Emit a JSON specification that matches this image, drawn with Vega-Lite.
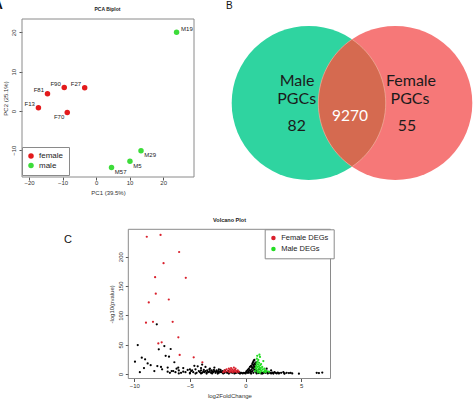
{
  "$schema": "https://vega.github.io/schema/vega-lite/v6.json",
  "width": 474,
  "height": 401,
  "padding": 0,
  "autosize": {"type": "none"},
  "background": "white",
  "config": {"view": {"stroke": null}, "font": "Liberation Sans"},
  "datasets": {
    "pca": [
      {"id": "F13", "sex": "female", "x": -17.2, "y": 0.8, "pos": "ul"},
      {"id": "F81", "sex": "female", "x": -14.5, "y": 4.4, "pos": "ul"},
      {"id": "F90", "sex": "female", "x": -9.5, "y": 6.0, "pos": "ul"},
      {"id": "F27", "sex": "female", "x": -3.4, "y": 5.9, "pos": "ul"},
      {"id": "F70", "sex": "female", "x": -8.6, "y": -0.4, "pos": "dl"},
      {"id": "M19", "sex": "male", "x": 24.0, "y": 20.0, "pos": "ur"},
      {"id": "M29", "sex": "male", "x": 13.4, "y": -10.1, "pos": "dr"},
      {"id": "M5", "sex": "male", "x": 10.1, "y": -12.8, "pos": "dr"},
      {"id": "M57", "sex": "male", "x": 4.6, "y": -14.4, "pos": "dr"}
    ],
    "pcaFrame": [{"x": -22.1, "x2": 29.2, "y": -16.8, "y2": 23.4}],
    "pcaTitle": [{"t": "PCA Biplot", "x": 3.4, "y": 26.0}],
    "letterA": [{"t": "A", "x": -27.8, "y": 26.97}],
    "venn": [
      {"set": "male", "x": -0.5625, "y": 0},
      {"set": "female", "x": 0.5625, "y": 0}
    ],
    "lens": [{"x": 0, "y": 0}],
    "vennText": [
      {"t": "Male", "x": -0.714, "y": 0.29, "k": "word"},
      {"t": "PGCs", "x": -0.718, "y": 0.05, "k": "word"},
      {"t": "82", "x": -0.718, "y": -0.295, "k": "num"},
      {"t": "9270", "x": -0.026, "y": -0.169, "k": "mid"},
      {"t": "Female", "x": 0.766, "y": 0.29, "k": "word"},
      {"t": "PGCs", "x": 0.753, "y": 0.05, "k": "word"},
      {"t": "55", "x": 0.714, "y": -0.295, "k": "num"}
    ],
    "letterB": [{"t": "B", "x": -1.594, "y": 1.256}],
    "volFrame": [{"x": -10.54, "x2": 7.64, "y": -7.7, "y2": 246.7}],
    "volTitle": [{"t": "Volcano Plot", "x": -1.44, "y": 262.6}],
    "letterC": [{"t": "C", "x": -15.96, "y": 228.5}],
    "volc": [
      {"x": -7.98, "y": 84.7, "g": "N"}, {"x": -9.69, "y": 49.4, "g": "N"}, {"x": -7.8, "y": 42, "g": "N"}, {"x": -7.3, "y": 47.7, "g": "N"},
      {"x": -6.73, "y": 42.6, "g": "N"}, {"x": -7.18, "y": 31, "g": "N"}, {"x": -6.88, "y": 29.5, "g": "N"}, {"x": -9.94, "y": 21, "g": "N"},
      {"x": -9.33, "y": 27.8, "g": "N"}, {"x": -9.03, "y": 25, "g": "N"}, {"x": -8.8, "y": 18, "g": "N"}, {"x": -9.13, "y": 10, "g": "N"},
      {"x": -8.53, "y": 15, "g": "N"}, {"x": -7.93, "y": 13.5, "g": "N"}, {"x": -7.6, "y": 12, "g": "N"}, {"x": -7.5, "y": 8, "g": "N"},
      {"x": -7.0, "y": 11, "g": "N"}, {"x": -6.4, "y": 20, "g": "N"}, {"x": -6.2, "y": 9, "g": "N"}, {"x": -6.64, "y": 5, "g": "N"},
      {"x": -4.6, "y": 14, "g": "N"}, {"x": -4.3, "y": 13, "g": "N"}, {"x": -8.2, "y": 5, "g": "N"}, {"x": -9.5, "y": 3, "g": "N"},
      {"x": -5.0, "y": 8, "g": "N"}, {"x": -4.0, "y": 10, "g": "N"}, {"x": -3.6, "y": 12, "g": "N"}, {"x": -3.2, "y": 9, "g": "N"},
      {"x": -2.8, "y": 11, "g": "N"}, {"x": -2.4, "y": 8, "g": "N"}, {"x": -3.9, "y": 16, "g": "N"}, {"x": -4.8, "y": 6, "g": "N"},
      {"x": -5.6, "y": 10, "g": "N"}, {"x": -6.05, "y": 11, "g": "N"},
      {"x": -7.0, "y": 4, "g": "N"}, {"x": -6.8, "y": 2, "g": "N"}, {"x": -6.5, "y": 5, "g": "N"}, {"x": -6.3, "y": 3, "g": "N"},
      {"x": -6.0, "y": 6, "g": "N"}, {"x": -5.8, "y": 2, "g": "N"}, {"x": -5.6, "y": 4, "g": "N"}, {"x": -5.4, "y": 3, "g": "N"},
      {"x": -5.2, "y": 7, "g": "N"}, {"x": -5.0, "y": 2, "g": "N"}, {"x": -4.9, "y": 5, "g": "N"}, {"x": -4.7, "y": 3, "g": "N"},
      {"x": -4.5, "y": 8, "g": "N"}, {"x": -4.4, "y": 2, "g": "N"}, {"x": -4.2, "y": 5, "g": "N"}, {"x": -4.1, "y": 3, "g": "N"},
      {"x": -4.0, "y": 6, "g": "N"}, {"x": -3.9, "y": 2, "g": "N"}, {"x": -3.8, "y": 4, "g": "N"}, {"x": -3.75, "y": 7, "g": "N"},
      {"x": -3.7, "y": 3, "g": "N"}, {"x": -3.6, "y": 5, "g": "N"}, {"x": -3.5, "y": 2, "g": "N"}, {"x": -3.45, "y": 6, "g": "N"},
      {"x": -3.4, "y": 4, "g": "N"}, {"x": -3.3, "y": 3, "g": "N"}, {"x": -3.25, "y": 8, "g": "N"}, {"x": -3.2, "y": 5, "g": "N"},
      {"x": -3.1, "y": 2, "g": "N"}, {"x": -3.05, "y": 6, "g": "N"}, {"x": -3.0, "y": 4, "g": "N"}, {"x": -2.9, "y": 3, "g": "N"},
      {"x": -2.85, "y": 7, "g": "N"}, {"x": -2.8, "y": 5, "g": "N"}, {"x": -2.7, "y": 2, "g": "N"}, {"x": -2.65, "y": 4, "g": "N"},
      {"x": -2.6, "y": 6, "g": "N"}, {"x": -2.5, "y": 3, "g": "N"}, {"x": -2.45, "y": 5, "g": "N"}, {"x": -2.4, "y": 2, "g": "N"},
      {"x": -2.3, "y": 4, "g": "N"}, {"x": -2.25, "y": 7, "g": "N"}, {"x": -2.2, "y": 3, "g": "N"}, {"x": -2.1, "y": 5, "g": "N"},
      {"x": -2.05, "y": 2, "g": "N"}, {"x": -2.0, "y": 4, "g": "N"}, {"x": -1.9, "y": 2, "g": "N"}, {"x": -1.85, "y": 6, "g": "N"},
      {"x": -1.75, "y": 3, "g": "N"}, {"x": -1.65, "y": 2, "g": "N"}, {"x": -1.55, "y": 5, "g": "N"}, {"x": -1.45, "y": 2, "g": "N"},
      {"x": -1.35, "y": 3, "g": "N"}, {"x": -1.2, "y": 2, "g": "N"}, {"x": -1.05, "y": 3, "g": "N"}, {"x": -0.95, "y": 1.5, "g": "N"},
      {"x": -0.85, "y": 2, "g": "N"}, {"x": -0.75, "y": 4, "g": "N"}, {"x": -0.65, "y": 2, "g": "N"}, {"x": -0.55, "y": 3, "g": "N"},
      {"x": -0.45, "y": 1.5, "g": "N"}, {"x": -0.35, "y": 2, "g": "N"}, {"x": -0.25, "y": 1, "g": "N"}, {"x": -0.15, "y": 2, "g": "N"},
      {"x": -0.05, "y": 1.5, "g": "N"}, {"x": 0.05, "y": 3, "g": "N"}, {"x": 0.1, "y": 5, "g": "N"}, {"x": 0.15, "y": 2, "g": "N"},
      {"x": 0.2, "y": 7, "g": "N"}, {"x": 0.25, "y": 4, "g": "N"}, {"x": 0.3, "y": 9, "g": "N"}, {"x": 0.35, "y": 6, "g": "N"},
      {"x": 0.4, "y": 12, "g": "N"}, {"x": 0.45, "y": 3, "g": "N"}, {"x": 0.5, "y": 14, "g": "N"}, {"x": 0.55, "y": 8, "g": "N"},
      {"x": 0.6, "y": 17, "g": "N"}, {"x": 0.62, "y": 5, "g": "N"}, {"x": 0.65, "y": 19, "g": "N"}, {"x": 0.68, "y": 10, "g": "N"},
      {"x": 0.7, "y": 21, "g": "N"}, {"x": 0.72, "y": 14, "g": "N"}, {"x": 0.75, "y": 23, "g": "N"}, {"x": 0.78, "y": 7, "g": "N"},
      {"x": 0.8, "y": 24, "g": "N"}, {"x": 0.82, "y": 12, "g": "N"}, {"x": 0.85, "y": 18, "g": "N"}, {"x": 0.88, "y": 4, "g": "N"},
      {"x": 0.9, "y": 15, "g": "N"}, {"x": 0.92, "y": 9, "g": "N"}, {"x": 0.95, "y": 20, "g": "N"}, {"x": 0.98, "y": 6, "g": "N"},
      {"x": 0.7, "y": 2, "g": "N"}, {"x": 0.5, "y": 4, "g": "N"}, {"x": 0.3, "y": 2, "g": "N"}, {"x": 0.6, "y": 11, "g": "N"},
      {"x": 0.75, "y": 16, "g": "N"}, {"x": 0.85, "y": 11, "g": "N"}, {"x": 0.4, "y": 6, "g": "N"}, {"x": 0.55, "y": 13, "g": "N"},
      {"x": 1.0, "y": 2, "g": "N"}, {"x": 1.1, "y": 3, "g": "N"}, {"x": 1.2, "y": 1.5, "g": "N"}, {"x": 1.3, "y": 2.5, "g": "N"},
      {"x": 1.4, "y": 1, "g": "N"}, {"x": 1.5, "y": 2, "g": "N"}, {"x": 1.6, "y": 1.5, "g": "N"}, {"x": 1.7, "y": 3, "g": "N"},
      {"x": 1.8, "y": 2, "g": "N"}, {"x": 1.9, "y": 4, "g": "N"}, {"x": 2.0, "y": 1.5, "g": "N"}, {"x": 2.1, "y": 3, "g": "N"},
      {"x": 2.2, "y": 2, "g": "N"}, {"x": 2.3, "y": 1, "g": "N"}, {"x": 2.4, "y": 2.5, "g": "N"}, {"x": 2.5, "y": 1.5, "g": "N"},
      {"x": 2.6, "y": 3, "g": "N"}, {"x": 2.7, "y": 2, "g": "N"}, {"x": 2.8, "y": 1, "g": "N"}, {"x": 2.9, "y": 2.5, "g": "N"},
      {"x": 3.0, "y": 1.5, "g": "N"}, {"x": 3.2, "y": 2, "g": "N"}, {"x": 3.4, "y": 3, "g": "N"}, {"x": 3.5, "y": 1, "g": "N"},
      {"x": 3.7, "y": 2, "g": "N"}, {"x": 3.9, "y": 1.5, "g": "N"}, {"x": 4.05, "y": 2, "g": "N"}, {"x": 4.2, "y": 1, "g": "N"},
      {"x": 4.8, "y": 0.5, "g": "N"}, {"x": 6.4, "y": 2, "g": "N"}, {"x": 6.6, "y": 1.5, "g": "N"}, {"x": 6.9, "y": 2.5, "g": "N"},
      {"x": 1.2, "y": 8, "g": "N"}, {"x": 1.9, "y": 9, "g": "N"}, {"x": 2.3, "y": 6, "g": "N"},
      {"x": -6, "y": 1, "g": "N"}, {"x": -5, "y": 1, "g": "N"}, {"x": -4.5, "y": 0.8, "g": "N"}, {"x": -4, "y": 1, "g": "N"},
      {"x": -3.5, "y": 0.7, "g": "N"}, {"x": -3, "y": 1, "g": "N"}, {"x": -2.5, "y": 0.8, "g": "N"}, {"x": -2, "y": 1, "g": "N"},
      {"x": -1.5, "y": 0.7, "g": "N"}, {"x": -1, "y": 1, "g": "N"}, {"x": -0.5, "y": 0.8, "g": "N"}, {"x": 0, "y": 1, "g": "N"},
      {"x": 0.5, "y": 0.8, "g": "N"}, {"x": 1, "y": 1, "g": "N"}, {"x": 1.5, "y": 0.7, "g": "N"}, {"x": 2, "y": 1, "g": "N"},
      {"x": 2.5, "y": 0.8, "g": "N"}, {"x": 3, "y": 1, "g": "N"}, {"x": 3.5, "y": 0.7, "g": "N"},
      {"x": -8.88, "y": 234, "g": "F"}, {"x": -7.64, "y": 237, "g": "F"}, {"x": -5.97, "y": 208, "g": "F"}, {"x": -7.37, "y": 189, "g": "F"},
      {"x": -8.13, "y": 165, "g": "F"}, {"x": -5.37, "y": 164, "g": "F"}, {"x": -8.07, "y": 137, "g": "F"}, {"x": -6.9, "y": 127, "g": "F"},
      {"x": -8.7, "y": 122, "g": "F"}, {"x": -8.32, "y": 89, "g": "F"}, {"x": -8.95, "y": 87.5, "g": "F"}, {"x": -6.55, "y": 89, "g": "F"},
      {"x": -6.04, "y": 62.6, "g": "F"}, {"x": -7.84, "y": 52, "g": "F"}, {"x": -7.54, "y": 54, "g": "F"}, {"x": -5.92, "y": 32.4, "g": "F"},
      {"x": -4.66, "y": 28.5, "g": "F"}, {"x": -3.88, "y": 20, "g": "F"},
      {"x": -2.0, "y": 3, "g": "F"}, {"x": -1.9, "y": 6, "g": "F"}, {"x": -1.8, "y": 4, "g": "F"}, {"x": -1.7, "y": 8, "g": "F"},
      {"x": -1.6, "y": 5, "g": "F"}, {"x": -1.5, "y": 9, "g": "F"}, {"x": -1.45, "y": 3, "g": "F"}, {"x": -1.4, "y": 7, "g": "F"},
      {"x": -1.3, "y": 10, "g": "F"}, {"x": -1.25, "y": 5, "g": "F"}, {"x": -1.2, "y": 8, "g": "F"}, {"x": -1.1, "y": 6, "g": "F"},
      {"x": -1.05, "y": 11, "g": "F"}, {"x": -1.0, "y": 4, "g": "F"}, {"x": -0.95, "y": 7, "g": "F"}, {"x": -0.9, "y": 9, "g": "F"},
      {"x": -0.85, "y": 5, "g": "F"}, {"x": -0.8, "y": 3, "g": "F"}, {"x": -0.7, "y": 6, "g": "F"}, {"x": -0.6, "y": 4, "g": "F"},
      {"x": -1.35, "y": 4, "g": "F"}, {"x": -1.15, "y": 3, "g": "F"},
      {"x": 0.85, "y": 5, "g": "M"}, {"x": 0.9, "y": 10, "g": "M"}, {"x": 0.95, "y": 14, "g": "M"}, {"x": 1.0, "y": 8, "g": "M"},
      {"x": 1.0, "y": 18, "g": "M"}, {"x": 1.02, "y": 26, "g": "M"}, {"x": 1.05, "y": 12, "g": "M"}, {"x": 1.08, "y": 21, "g": "M"},
      {"x": 1.1, "y": 6, "g": "M"}, {"x": 1.12, "y": 16, "g": "M"}, {"x": 1.15, "y": 24, "g": "M"}, {"x": 1.18, "y": 9, "g": "M"},
      {"x": 1.2, "y": 13, "g": "M"}, {"x": 1.22, "y": 19, "g": "M"}, {"x": 1.25, "y": 4, "g": "M"}, {"x": 1.28, "y": 11, "g": "M"},
      {"x": 1.3, "y": 29, "g": "M"}, {"x": 1.32, "y": 15, "g": "M"}, {"x": 1.35, "y": 7, "g": "M"}, {"x": 1.38, "y": 10, "g": "M"},
      {"x": 1.4, "y": 17, "g": "M"}, {"x": 1.45, "y": 5, "g": "M"}, {"x": 1.5, "y": 12, "g": "M"}, {"x": 1.55, "y": 8, "g": "M"},
      {"x": 1.6, "y": 22, "g": "M"}, {"x": 1.65, "y": 4, "g": "M"}, {"x": 1.7, "y": 9, "g": "M"}, {"x": 1.75, "y": 6, "g": "M"},
      {"x": 1.8, "y": 3, "g": "M"}, {"x": 1.9, "y": 5, "g": "M"}, {"x": 2.1, "y": 4, "g": "M"}, {"x": 1.05, "y": 31, "g": "M"},
      {"x": 1.25, "y": 33, "g": "M"}, {"x": 1.1, "y": 3, "g": "M"}, {"x": 1.3, "y": 2, "g": "M"}
    ]
  },
  "layer": [
    {
      "layer": [
        {
          "data": {"name": "pcaFrame"},
          "mark": {"type": "rect", "fill": "transparent", "stroke": "#8a8a8a", "strokeWidth": 1},
          "encoding": {
            "x": {"field": "x", "type": "quantitative"},
            "x2": {"field": "x2"},
            "y": {"field": "y", "type": "quantitative"},
            "y2": {"field": "y2"}
          }
        },
        {
          "data": {"name": "pca"},
          "mark": {"type": "point", "filled": true, "shape": "circle", "size": 30, "opacity": 1, "strokeWidth": 0},
          "encoding": {
            "x": {
              "field": "x", "type": "quantitative",
              "scale": {"domain": [-22.1, 29.2], "range": [22, 194], "zero": false, "nice": false},
              "axis": {
                "orient": "bottom", "offset": -224, "values": [-20, -10, 0, 10, 20], "title": "PC1 (39.5%)",
                "grid": false, "domain": false, "tickSize": 3, "tickColor": "#555",
                "labelFontSize": 6, "labelColor": "#333", "labelPadding": 2.7, "labelBaseline": "middle",
                "labelFlush": false, "labelOverlap": false,
                "titleFontSize": 6, "titleFontWeight": "normal", "titleColor": "#333", "titleY": 15.3, "titleBaseline": "middle"
              }
            },
            "y": {
              "field": "y", "type": "quantitative",
              "scale": {"domain": [-16.8, 23.4], "range": [177, 19], "zero": false, "nice": false},
              "axis": {
                "orient": "left", "offset": -22, "values": [-10, 0, 10, 20], "title": "PC2 (25.1%)",
                "grid": false, "domain": false, "tickSize": 3, "tickColor": "#555",
                "labelFontSize": 6, "labelColor": "#333", "labelPadding": 5.7, "labelAngle": 270,
                "labelAlign": "center", "labelBaseline": "middle", "labelFlush": false, "labelOverlap": false,
                "titleFontSize": 6, "titleFontWeight": "normal", "titleColor": "#333", "titleX": -17, "titleBaseline": "middle"
              }
            },
            "color": {
              "field": "sex", "type": "nominal",
              "scale": {"domain": ["female", "male"], "range": ["#e31a1c", "#3ddc3a"]},
              "legend": {
                "orient": "none", "legendX": 22, "legendY": 147, "title": null, "direction": "vertical",
                "strokeColor": "#8a8a8a", "fillColor": "white", "padding": 5,
                "labelFontSize": 8, "labelColor": "#222", "symbolSize": 30, "symbolType": "circle",
                "symbolStrokeWidth": 0, "rowPadding": 1.5, "labelOffset": 4
              }
            }
          }
        },
        {
          "data": {"name": "pca"},
          "transform": [{"filter": "datum.pos == 'ul'"}],
          "mark": {"type": "text", "align": "right", "baseline": "middle", "dx": -3.5, "dy": -3.7, "fontSize": 6, "color": "#222"},
          "encoding": {
            "x": {"field": "x", "type": "quantitative"},
            "y": {"field": "y", "type": "quantitative"},
            "text": {"field": "id"}
          }
        },
        {
          "data": {"name": "pca"},
          "transform": [{"filter": "datum.pos == 'dl'"}],
          "mark": {"type": "text", "align": "right", "baseline": "middle", "dx": -3, "dy": 4, "fontSize": 6, "color": "#222"},
          "encoding": {
            "x": {"field": "x", "type": "quantitative"},
            "y": {"field": "y", "type": "quantitative"},
            "text": {"field": "id"}
          }
        },
        {
          "data": {"name": "pca"},
          "transform": [{"filter": "datum.pos == 'ur'"}],
          "mark": {"type": "text", "align": "left", "baseline": "middle", "dx": 4.5, "dy": -3.3, "fontSize": 6, "color": "#222"},
          "encoding": {
            "x": {"field": "x", "type": "quantitative"},
            "y": {"field": "y", "type": "quantitative"},
            "text": {"field": "id"}
          }
        },
        {
          "data": {"name": "pca"},
          "transform": [{"filter": "datum.pos == 'dr'"}],
          "mark": {"type": "text", "align": "left", "baseline": "middle", "dx": 3.3, "dy": 4.5, "fontSize": 6, "color": "#222"},
          "encoding": {
            "x": {"field": "x", "type": "quantitative"},
            "y": {"field": "y", "type": "quantitative"},
            "text": {"field": "id"}
          }
        },
        {
          "data": {"name": "pcaTitle"},
          "mark": {"type": "text", "align": "center", "baseline": "middle", "fontSize": 5, "fontWeight": "bold", "color": "#222"},
          "encoding": {
            "x": {"field": "x", "type": "quantitative"},
            "y": {"field": "y", "type": "quantitative"},
            "text": {"field": "t"}
          }
        },
        {
          "data": {"name": "letterA"},
          "mark": {"type": "text", "align": "right", "baseline": "middle", "fontSize": 14, "fontWeight": "bold", "color": "#111"},
          "encoding": {
            "x": {"field": "x", "type": "quantitative"},
            "y": {"field": "y", "type": "quantitative"},
            "text": {"field": "t"}
          }
        }
      ]
    },
    {
      "layer": [
        {
          "data": {"name": "venn"},
          "mark": {"type": "point", "filled": true, "shape": "circle", "size": 23716, "opacity": 1, "strokeWidth": 0},
          "encoding": {
            "x": {"field": "x", "type": "quantitative", "scale": {"domain": [-1.6, 1.6], "range": [228.8, 475.2], "zero": false, "nice": false}, "axis": null},
            "y": {"field": "y", "type": "quantitative", "scale": {"domain": [-1.34, 1.34], "range": [206.2, -0.2], "zero": false, "nice": false}, "axis": null},
            "color": {"field": "set", "type": "nominal", "scale": {"domain": ["male", "female"], "range": ["#2fd4a0", "#f67878"]}, "legend": null}
          }
        },
        {
          "data": {"name": "lens"},
          "mark": {"type": "point", "filled": true, "shape": "M0,-0.8269A1,1,0,0,1,0,0.8269A1,1,0,0,1,0,-0.8269Z", "size": 23716, "opacity": 1, "fill": "#d56a50", "stroke": "#f2c2ae", "strokeWidth": 0.7, "strokeOpacity": 0.8},
          "encoding": {
            "x": {"field": "x", "type": "quantitative"},
            "y": {"field": "y", "type": "quantitative"}
          }
        },
        {
          "data": {"name": "vennText"},
          "mark": {"type": "text", "align": "center", "baseline": "middle", "font": "Lato"},
          "encoding": {
            "x": {"field": "x", "type": "quantitative"},
            "y": {"field": "y", "type": "quantitative"},
            "text": {"field": "t"},
            "color": {"field": "k", "type": "nominal", "scale": {"domain": ["word", "num", "mid"], "range": ["#1b1b1b", "#1b1b1b", "#ffffff"]}, "legend": null},
            "size": {"field": "k", "type": "nominal", "scale": {"domain": ["word", "num", "mid"], "range": [16, 15.5, 15.5]}, "legend": null}
          }
        },
        {
          "data": {"name": "letterB"},
          "mark": {"type": "text", "align": "center", "baseline": "middle", "fontSize": 10, "color": "#111"},
          "encoding": {
            "x": {"field": "x", "type": "quantitative"},
            "y": {"field": "y", "type": "quantitative"},
            "text": {"field": "t"}
          }
        }
      ],
      "resolve": {"scale": {"color": "independent", "size": "independent"}}
    },
    {
      "layer": [
        {
          "data": {"name": "volFrame"},
          "mark": {"type": "rect", "fill": "transparent", "stroke": "#8a8a8a", "strokeWidth": 1},
          "encoding": {
            "x": {"field": "x", "type": "quantitative"},
            "x2": {"field": "x2"},
            "y": {"field": "y", "type": "quantitative"},
            "y2": {"field": "y2"}
          }
        },
        {
          "data": {"name": "volc"},
          "mark": {"type": "point", "filled": true, "shape": "circle", "size": 5, "opacity": 1, "strokeWidth": 0},
          "encoding": {
            "x": {
              "field": "x", "type": "quantitative",
              "scale": {"domain": [-10.54, 7.64], "range": [128.3, 330.5], "zero": false, "nice": false},
              "axis": {
                "orient": "bottom", "offset": -22.5, "values": [-10, -5, 0, 5], "title": "log2FoldChange",
                "grid": false, "domain": false, "tickSize": 3, "tickColor": "#555",
                "labelFontSize": 6, "labelColor": "#333", "labelPadding": 4.2, "labelBaseline": "middle",
                "labelFlush": false, "labelOverlap": false,
                "titleFontSize": 6, "titleFontWeight": "normal", "titleColor": "#333", "titleY": 16.5, "titleBaseline": "middle"
              }
            },
            "y": {
              "field": "y", "type": "quantitative",
              "scale": {"domain": [-7.7, 246.7], "range": [378.5, 229.3], "zero": false, "nice": false},
              "axis": {
                "orient": "left", "offset": -128.3, "values": [0, 50, 100, 150, 200], "title": "-log10(pvalue)",
                "grid": false, "domain": false, "tickSize": 3, "tickColor": "#555",
                "labelFontSize": 6, "labelColor": "#333", "labelPadding": 5.3, "labelAngle": 270,
                "labelAlign": "center", "labelBaseline": "middle", "labelFlush": false, "labelOverlap": false,
                "titleFontSize": 6, "titleFontWeight": "normal", "titleColor": "#333", "titleX": -17.3, "titleBaseline": "middle"
              }
            },
            "color": {
              "field": "g", "type": "nominal",
              "scale": {"domain": ["F", "M", "N"], "range": ["#d9202c", "#22dd22", "#000000"]},
              "legend": {
                "orient": "none", "legendX": 264.7, "legendY": 229.3, "title": null, "direction": "vertical",
                "values": ["F", "M"], "labelExpr": "datum.label == 'F' ? 'Female DEGs' : 'Male DEGs'",
                "strokeColor": "#8a8a8a", "fillColor": "white", "padding": 5,
                "labelFontSize": 7.5, "labelColor": "#222", "symbolSize": 20, "symbolType": "circle",
                "symbolStrokeWidth": 0, "rowPadding": 2, "labelOffset": 4
              }
            }
          }
        },
        {
          "data": {"name": "volTitle"},
          "mark": {"type": "text", "align": "center", "baseline": "middle", "fontSize": 5.5, "fontWeight": "bold", "color": "#222"},
          "encoding": {
            "x": {"field": "x", "type": "quantitative"},
            "y": {"field": "y", "type": "quantitative"},
            "text": {"field": "t"}
          }
        },
        {
          "data": {"name": "letterC"},
          "mark": {"type": "text", "align": "center", "baseline": "middle", "fontSize": 11, "color": "#111"},
          "encoding": {
            "x": {"field": "x", "type": "quantitative"},
            "y": {"field": "y", "type": "quantitative"},
            "text": {"field": "t"}
          }
        }
      ]
    }
  ],
  "resolve": {"scale": {"x": "independent", "y": "independent", "color": "independent", "size": "independent"}}
}
